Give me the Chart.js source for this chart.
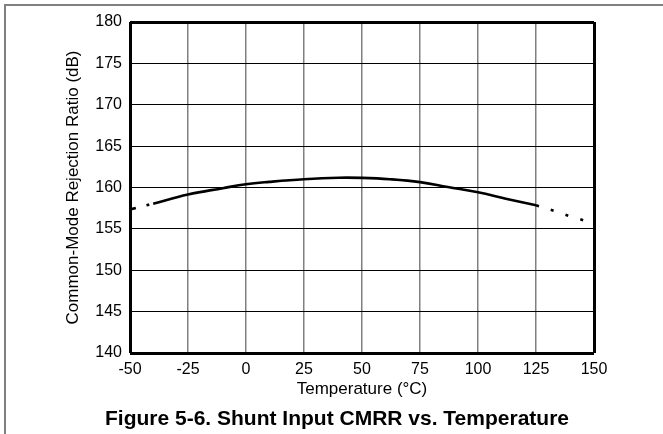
<!DOCTYPE html>
<html>
<head>
<meta charset="utf-8">
<script src="https://cdn.jsdelivr.net/npm/chart.js@4/dist/chart.umd.min.js"></script>
<style>
  body { margin:0; background:#fff; }
  #wrap { position:relative; width:663px; height:434px; overflow:hidden; }
  #chart { position:absolute; left:0; top:0; }
  .frame { position:absolute; left:4px; top:4px; width:700px; height:500px;
           border-top:2px solid #808080; border-left:2px solid #808080; }
  .caption { position:absolute; left:0; width:674px; top:406px; text-align:center;
             font:bold 21px "Liberation Sans", Arial, sans-serif; color:#000; }
</style>
</head>
<body>
<div id="wrap">
  <div class="frame"></div>
  <canvas id="chart" width="663" height="434"></canvas>
  <div class="caption">Figure 5-6. Shunt Input CMRR vs. Temperature</div>
</div>
<script>
// dB
const lowTemps = [-50, -40];
const lowCmrr = [157.35, 158.05];
const midTemps = [-40, -25, -10, 0, 10, 25, 40, 50, 62, 75, 87, 100, 112, 125];
const midCmrr = [158.05, 159.15, 159.92, 160.4, 160.68, 161.0, 161.18, 161.16, 161.0, 160.65, 160.05, 159.43, 158.65, 157.85];
const highTemps = [125, 133, 140, 147, 150];
const highCmrr = [157.85, 157.15, 156.5, 155.9, 155.6];

const xTicks = [-50, -25, 0, 25, 50, 75, 100, 125, 150];
const yTicks = [140, 145, 150, 155, 160, 165, 170, 175, 180];

Chart.defaults.font.family = '"Liberation Sans", Arial, sans-serif';
Chart.defaults.color = '#000';

const pts = (xs, ys) => xs.map((x, i) => ({x, y: ys[i]}));
const line = (data, dash) => ({
  data, borderColor:'#000', borderWidth:2.6, pointRadius:0, fill:false,
  tension:0.4, borderDash:dash, borderCapStyle:'butt'
});

new Chart(document.getElementById('chart'), {
  type:'line',
  data:{ datasets:[
    line(pts(lowTemps, lowCmrr), [6, 11, 3, 4]),
    line(pts(midTemps, midCmrr), []),
    line(pts(highTemps, highCmrr), [3, 12.5])
  ]},
  options:{
    responsive:false, animation:false,
    layout:{ padding:{ left:0, top:22, right:69, bottom:31 } },
    plugins:{ legend:{display:false}, tooltip:{enabled:false} },
    scales:{
      x:{
        type:'linear', min:-50, max:150,
        afterBuildTicks: s => { s.ticks = xTicks.map(v => ({value:v})); },
        afterFit: s => { s.height = 50; },
        ticks:{ font:{size:16}, padding:7, maxRotation:0 },
        grid:{ drawTicks:false,
          color: c => (c.index === 0 || c.index === xTicks.length - 1) ? '#000' : '#808080',
          lineWidth: c => (c.index === 0 || c.index === xTicks.length - 1) ? 3 : 1.5 },
        border:{ display:false },
        title:{ display:true, text:'Temperature (°C)', font:{size:17}, padding:{top:0, bottom:3} }
      },
      y:{
        min:140, max:180,
        afterBuildTicks: s => { s.ticks = yTicks.map(v => ({value:v})); },
        afterFit: s => { s.width = 130; },
        ticks:{ font:{size:16}, padding:8 },
        grid:{ drawTicks:false, color:'#000',
          lineWidth: c => (c.index === 0 || c.index === yTicks.length - 1) ? 3 : 1 },
        border:{ display:false },
        title:{ display:true, text:'Common-Mode Rejection Ratio (dB)', font:{size:17}, padding:{top:63, bottom:0} }
      }
    }
  }
});
</script>
</body>
</html>
